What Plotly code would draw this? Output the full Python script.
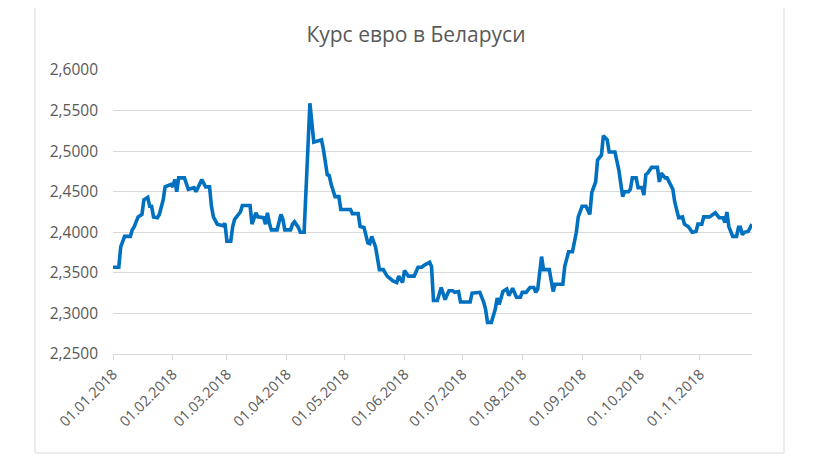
"""Курс евро в Беларуси — Excel-style line chart rebuilt with plotly."""

import pandas as pd
import plotly.graph_objects as go

# days counted from 01.01.2018
day_offset = [
    0, 3, 4, 6, 9, 10, 11, 13, 15, 16, 18, 19, 20, 21, 23, 24, 26, 27, 30, 31,
    32, 33, 34, 37, 39, 42, 43, 44, 46, 48, 50, 51, 52, 54, 57, 58, 59, 61, 62, 63,
    64, 66, 67, 71, 72, 73, 74, 75, 78, 79, 80, 81, 82, 85, 86, 87, 88, 89, 92, 93,
    94, 96, 97, 99, 102, 104, 108, 109, 111, 112, 113, 115, 117, 118, 123, 124, 127, 128, 130, 132,
    133, 134, 136, 137, 138, 140, 142, 145, 147, 148, 150, 151, 153, 156, 158, 160, 161, 164, 165, 166,
    168, 170, 172, 174, 176, 177, 179, 180, 185, 186, 190, 192, 193, 194, 196, 198, 199, 200, 202, 204,
    205, 207, 209, 211, 212, 214, 216, 218, 219, 220, 222, 223, 226, 228, 229, 233, 234, 236, 238, 240,
    241, 243, 245, 247, 248, 250, 251, 253, 254, 256, 257, 260, 262, 264, 265, 267, 268, 269, 271, 272,
    274, 275, 276, 277, 279, 282, 283, 284, 286, 287, 290, 291, 293, 295, 296, 298, 300, 302, 303, 305,
    306, 309, 312, 314, 316, 317, 318, 319, 321, 323, 324, 325, 326, 327, 329, 331,
]
eur_byn = [
    2.357, 2.357, 2.382, 2.395, 2.395, 2.403, 2.407, 2.419, 2.422, 2.440, 2.443, 2.432, 2.432, 2.419, 2.418, 2.422, 2.440, 2.456, 2.459, 2.456,
    2.465, 2.450, 2.467, 2.467, 2.453, 2.455, 2.450, 2.456, 2.465, 2.456, 2.456, 2.432, 2.419, 2.410, 2.408, 2.411, 2.389, 2.389, 2.407, 2.416,
    2.419, 2.425, 2.433, 2.433, 2.410, 2.416, 2.424, 2.419, 2.418, 2.410, 2.424, 2.411, 2.403, 2.403, 2.412, 2.422, 2.416, 2.403, 2.403, 2.410,
    2.413, 2.406, 2.400, 2.400, 2.559, 2.511, 2.514, 2.502, 2.471, 2.470, 2.459, 2.444, 2.444, 2.428, 2.428, 2.423, 2.423, 2.407, 2.406, 2.387,
    2.386, 2.395, 2.382, 2.367, 2.354, 2.354, 2.346, 2.340, 2.338, 2.346, 2.338, 2.353, 2.346, 2.346, 2.357, 2.357, 2.359, 2.363, 2.358, 2.316,
    2.316, 2.332, 2.317, 2.328, 2.328, 2.326, 2.327, 2.314, 2.314, 2.325, 2.326, 2.314, 2.305, 2.289, 2.289, 2.305, 2.319, 2.311, 2.327, 2.330,
    2.322, 2.331, 2.320, 2.320, 2.326, 2.326, 2.332, 2.332, 2.326, 2.330, 2.370, 2.354, 2.354, 2.327, 2.336, 2.336, 2.358, 2.376, 2.376, 2.400,
    2.419, 2.432, 2.432, 2.422, 2.449, 2.462, 2.489, 2.495, 2.519, 2.514, 2.499, 2.499, 2.477, 2.444, 2.450, 2.450, 2.453, 2.467, 2.467, 2.455,
    2.455, 2.446, 2.471, 2.473, 2.480, 2.480, 2.462, 2.473, 2.467, 2.467, 2.453, 2.437, 2.418, 2.419, 2.410, 2.407, 2.400, 2.401, 2.410, 2.410,
    2.419, 2.419, 2.424, 2.418, 2.418, 2.412, 2.425, 2.407, 2.395, 2.395, 2.406, 2.406, 2.397, 2.400, 2.401, 2.410,
]
month_ticks = [
    "2018-01-01", "2018-02-01", "2018-03-01", "2018-04-01", "2018-05-01", "2018-06-01",
    "2018-07-01", "2018-08-01", "2018-09-01", "2018-10-01", "2018-11-01",
]
y_ticks = [2.25, 2.30, 2.35, 2.40, 2.45, 2.50, 2.55, 2.60]

TEXT = "#595959"
GRID = "#d9d9d9"
# the page body adds an 8px margin, so the figure is drawn 8px smaller
# and every pixel position below is the reference position minus 8
OFF = 8
W, H = 820 - OFF, 458 - OFF
L, R, T, B = 113 - OFF, 752 - OFF, 70 - OFF, 354 - OFF

dates = pd.Timestamp("2018-01-01") + pd.to_timedelta(day_offset, unit="D")

fig = go.Figure()
fig.add_scatter(
    x=dates, y=eur_byn, mode="lines",
    line={"color": "#0070c0", "width": 3.6}, showlegend=False,
)

# light frame around the whole chart, as Excel draws it
pw, ph = R - L, B - T
fig.add_shape(
    type="rect", xref="paper", yref="paper", layer="below",
    x0=(35 - OFF - L) / pw, x1=(784 - OFF - L) / pw,
    y0=(B - (453 - OFF)) / ph, y1=(B - (5 - OFF)) / ph,
    line={"color": GRID, "width": 1}, fillcolor="rgba(0,0,0,0)",
)

fig.update_layout(
    width=W, height=H,
    margin={"l": L, "r": W - R, "t": T, "b": H - B, "pad": 0},
    paper_bgcolor="white", plot_bgcolor="white",
    separators=",\u00a0",
    font={"family": "Open Sans, sans-serif", "color": TEXT, "size": 14},
    title={
        "text": "Курс евро в Беларуси", "x": 0.5 + 2 / W, "xanchor": "center",
        "y": 1 - (35 - OFF) / H, "yanchor": "middle", "yref": "container",
        "font": {"size": 21, "color": TEXT},
    },
    xaxis={
        "range": [dates[0], dates[-1]],
        "tickvals": month_ticks, "tickformat": "%d.%m.%Y", "tickangle": -45,
        "showgrid": False, "showline": True, "linecolor": GRID, "linewidth": 1,
        "ticks": "outside", "ticklen": 5, "tickcolor": GRID,
        "tickfont": {"size": 14.5, "color": TEXT},
        "zeroline": False,
    },
    yaxis={
        "range": [2.25, 2.60], "tickvals": y_ticks, "tickformat": ".4f",
        "showgrid": True, "gridcolor": GRID, "gridwidth": 1,
        "zeroline": False, "showline": False, "ticks": "",
        "ticklabelstandoff": 14,
        "tickfont": {"size": 15.5, "color": TEXT},
    },
)

fig.write_html("out.html")
